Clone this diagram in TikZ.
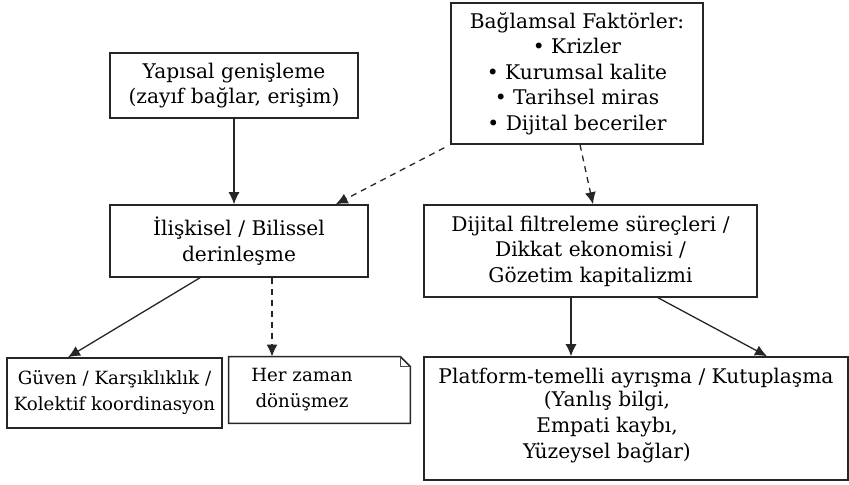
\documentclass[tikz,border=0pt]{standalone}
\usepackage{fontspec}
\setmainfont{DejaVu Serif}
\usetikzlibrary{calc,arrows.meta}
\begin{document}
\begin{tikzpicture}[x=0.5pt,y=-0.5pt,
  box/.style={draw=black!85,line width=0.75pt,inner sep=0pt,align=center,
    font=\fontsize{10.1}{12.75}\selectfont},
  small/.style={font=\fontsize{9.1}{13}\selectfont},
  txt/.style={inner sep=0pt,align=center,font=\fontsize{10.1}{12.75}\selectfont},
  arr/.style={line width=0.65pt,draw=black!85,-{Latex[length=6pt,width=5.5pt]}},
  darr/.style={arr,dash pattern=on 3pt off 2.5pt}]
\useasboundingbox (0,0) rectangle (849,485);
\node[box,minimum width=124pt,minimum height=32.5pt] (yap) at (234,85.5)
  {Yapısal genişleme\\(zayıf bağlar, erişim)};
\node[box,minimum width=126pt,minimum height=70.5pt] (bag) at (577,73.5)
  {Bağlamsal Faktörler:\\• Krizler\\• Kurumsal kalite\\• Tarihsel miras\\• Dijital beceriler};
\node[box,minimum width=129pt,minimum height=36pt] (ili) at (239,241)
  {İlişkisel / Bilissel\\derinleşme};
\node[box,minimum width=166.5pt,minimum height=46pt] (dij) at (590.5,251)
  {Dijital filtreleme süreçleri /\\Dikkat ekonomisi /\\Gözetim kapitalizmi};
\node[box,small,minimum width=107.5pt,minimum height=35pt] (guv) at (114.5,393)
  {Güven / Karşıklıklık /\\Kolektif koordinasyon};
\node[minimum width=90.5pt,minimum height=33pt,inner sep=0pt] (her) at (319.5,390) {};
\draw[line width=0.75pt,draw=black!85] (her.north west) -- ($(her.north east)+(-10,0)$)
  -- ($(her.north east)+(0,10)$) -- (her.south east) -- (her.south west) -- cycle;
\draw[line width=0.5pt,draw=black!70] ($(her.north east)+(-10,0)$) -- ($(her.north east)+(-10,10)$)
  -- ($(her.north east)+(0,10)$);
\node[txt,small] (hert) at (302,390) {Her zaman\\dönüşmez};
\node[box,minimum width=212pt,minimum height=61.5pt] (plat) at (636,418.5) {};
\node[txt] (plat1) at (636,378) {Platform-temelli ayrışma / Kutuplaşma};
\node[txt,font=\fontsize{10.1}{13.2}\selectfont] (plat2) at (607,427) {(Yanlış bilgi,\\Empati kaybı,\\Yüzeysel bağlar)};
\coordinate (c1) at ($(bag.south west)+(-6,3)$);
\coordinate (c2) at ($(ili.north east)+(-33,0)$);
\coordinate (c3) at ($(bag.south)+(3,0)$);
\coordinate (c4) at ($(dij.north)+(2.5,0)$);
\coordinate (c5) at ($(ili.south)+(-39,0)$);
\coordinate (c6) at ($(guv.north)+(-46.5,0)$);
\coordinate (c7) at ($(ili.south)+(33,0)$);
\coordinate (c8) at ($(dij.south)+(-19.5,0)$);
\coordinate (c9) at ($(dij.south)+(67.5,0)$);
\coordinate (c10) at ($(plat.north)+(131,0)$);
\draw[arr] (yap.south) -- (yap.south |- ili.north);
\draw[darr] (c1) -- (c2);
\draw[darr] (c3) -- (c4);
\draw[arr] (c5) -- (c6);
\draw[darr] (c7) -- (c7 |- her.north);
\draw[arr] (c8) -- (c8 |- plat.north);
\draw[arr] (c9) -- (c10);
\end{tikzpicture}
\end{document}
